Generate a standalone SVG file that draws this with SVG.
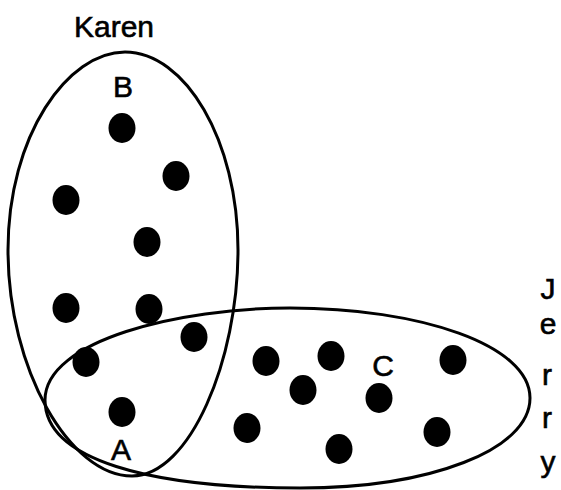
<svg xmlns="http://www.w3.org/2000/svg" width="561" height="490" viewBox="0 0 561 490">
<style>
.set{fill:none;stroke:#000;stroke-width:3}
.dot{fill:#000}
.lbl{font-family:"Liberation Sans",Arial,sans-serif;font-size:30px;fill:#000;stroke:#000;stroke-width:0.6;text-anchor:middle}
</style>
<rect width="561" height="490" fill="#fff"/>
<g id="karen">
<path class="set" d="M125,52 C185,52 238,140 238,250 C238,360 190,476 132,476 C70,476 8,370 8,250 C8,135 68,52 125,52 Z"/>
<text class="lbl" x="114" y="37" font-size="31">Karen</text>
</g>
<g id="jerry">
<path class="set" d="M45,400 C45,340 180,308 290,308 C420,308 530,345 530,398 C530,450 430,488 300,488 C150,488 45,460 45,400 Z"/>
<text class="lbl" x="548" y="299">J</text>
<text class="lbl" x="548" y="334">e</text>
<text class="lbl" x="547" y="385">r</text>
<text class="lbl" x="547" y="428">r</text>
<text class="lbl" x="548" y="472">y</text>
</g>
<g id="labels">
<text class="lbl" x="123" y="97">B</text>
<text class="lbl" x="121" y="460">A</text>
<text class="lbl" x="383" y="376">C</text>
</g>
<g id="dots">
<ellipse class="dot" cx="122" cy="128" rx="13.5" ry="15"/>
<ellipse class="dot" cx="176" cy="176" rx="13.5" ry="15"/>
<ellipse class="dot" cx="66" cy="200" rx="13.5" ry="15"/>
<ellipse class="dot" cx="147" cy="242" rx="13.5" ry="15"/>
<ellipse class="dot" cx="66" cy="308" rx="13.5" ry="15"/>
<ellipse class="dot" cx="149" cy="309" rx="13.5" ry="15"/>
<ellipse class="dot" cx="194" cy="337" rx="13.5" ry="15"/>
<ellipse class="dot" cx="86" cy="362" rx="13.5" ry="15"/>
<ellipse class="dot" cx="122" cy="412" rx="13.5" ry="15"/>
<ellipse class="dot" cx="266" cy="361" rx="13.5" ry="15"/>
<ellipse class="dot" cx="247" cy="428" rx="13.5" ry="15"/>
<ellipse class="dot" cx="331" cy="356" rx="13.5" ry="15"/>
<ellipse class="dot" cx="303" cy="390" rx="13.5" ry="15"/>
<ellipse class="dot" cx="453" cy="360" rx="13.5" ry="15"/>
<ellipse class="dot" cx="379" cy="398" rx="13.5" ry="15"/>
<ellipse class="dot" cx="437" cy="432" rx="13.5" ry="15"/>
<ellipse class="dot" cx="339" cy="449" rx="13.5" ry="15"/>
</g>
</svg>
